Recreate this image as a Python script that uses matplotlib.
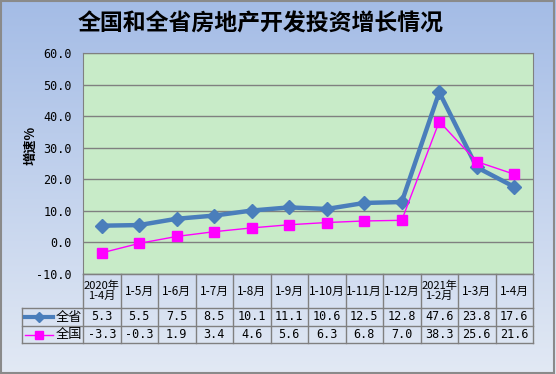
import numpy as np
import matplotlib.pyplot as plt
from matplotlib.lines import Line2D

plt.rcParams['font.family'] = ['Noto Sans CJK SC', 'DejaVu Sans']

categories = ["2020年\n1-4月", "1-5月", "1-6月", "1-7月", "1-8月", "1-9月", "1-10月",
              "1-11月", "1-12月", "2021年\n1-2月", "1-3月", "1-4月"]
province = [5.3, 5.5, 7.5, 8.5, 10.1, 11.1, 10.6, 12.5, 12.8, 47.6, 23.8, 17.6]
national = [-3.3, -0.3, 1.9, 3.4, 4.6, 5.6, 6.3, 6.8, 7.0, 38.3, 25.6, 21.6]
series_names = ["全省", "全国"]
yticks = [-10, 0, 10, 20, 30, 40, 50, 60]

W, H = 556, 374
fig = plt.figure(figsize=(W / 100, H / 100), dpi=100)

# gradient background
bg = fig.add_axes([0, 0, 1, 1], zorder=-10)
top = np.array([164, 188, 230]) / 255
bot = np.array([226, 233, 244]) / 255
t = np.linspace(0, 1, 256)[:, None]
grad = top[None, :] * (1 - t) + bot[None, :] * t
bg.imshow(grad[:, None, :], aspect='auto', extent=[0, 1, 0, 1])
bg.set_axis_off()
bg.add_patch(plt.Rectangle((0.002, 0.003), 0.995, 0.993, fill=False,
                           edgecolor='#8a8a8a', lw=1.5, transform=bg.transAxes))

left, right, ytop, ybot = 83, 533, 53, 274
ax = fig.add_axes([left / W, (H - ybot) / H, (right - left) / W, (ybot - ytop) / H])
ax.set_facecolor('#c8ebc8')
n = len(categories)
x = np.arange(n)
colw = (right - left) / n
ax.set_xlim(-0.5, n - 0.5)
ax.set_ylim(-10, 60)
ax.set_yticks(yticks)
ax.set_yticklabels([f"{v:.1f}" for v in yticks], family='DejaVu Sans Mono', fontsize=8.5)
ax.tick_params(axis='y', length=0, pad=8)
ax.set_xticks([])
for v in yticks:
    ax.axhline(v, color='#808080', lw=1, zorder=1)
for s in ax.spines.values():
    s.set_color('#808080')

ax.plot(x, province, color='#4a7ebb', lw=3.2, marker='D', ms=7, zorder=3)
ax.plot(x, national, color='#ff00ff', lw=1, marker='s', ms=6.5, zorder=4)

fig.text(30 / W, 1 - 145 / H, "增速%", rotation=90, ha='center', va='center',
         fontsize=9.5, fontweight='bold')
fig.text(261 / W, 1 - 24 / H, "全国和全省房地产开发投资增长情况", ha='center', va='center',
         fontsize=16.5, fontweight='bold')

# data table below the axes
tr = ax.get_xaxis_transform()
ph = ybot - ytop
r0, r1, r2, r3 = 0, -34 / ph, -52 / ph, -69 / ph


def px(xp):
    return -0.5 + (xp - left) / colw


xl = px(22)
gc = '#808080'
for yy in (r0, r1, r2, r3):
    x0 = -0.5 if yy == r0 else xl
    ax.add_line(Line2D([x0, n - 0.5], [yy, yy], transform=tr, color=gc, lw=1, clip_on=False))
for i in range(n + 1):
    ax.add_line(Line2D([i - 0.5, i - 0.5], [r0, r3], transform=tr, color=gc, lw=1, clip_on=False))
ax.add_line(Line2D([xl, xl], [r1, r3], transform=tr, color=gc, lw=1, clip_on=False))

for i, c in enumerate(categories):
    fs = 8 if "\n" in c else 8.5
    ax.text(i, (r0 + r1) / 2, c, transform=tr, ha='center', va='center',
            fontsize=fs, linespacing=1.0)
    ax.text(i, (r1 + r2) / 2, f"{province[i]:.1f}", transform=tr, ha='center', va='center',
            fontsize=8.5, family='DejaVu Sans Mono')
    ax.text(i, (r2 + r3) / 2, f"{national[i]:.1f}", transform=tr, ha='center', va='center',
            fontsize=8.5, family='DejaVu Sans Mono')

# legend keys inside the table
styles = [dict(color='#4a7ebb', lw=3, marker='D', ms=5),
          dict(color='#ff00ff', lw=1, marker='s', ms=5.5)]
rows = [(r1 + r2) / 2, (r2 + r3) / 2]
ka, kb = px(25), px(53)
for name, st, yy in zip(series_names, styles, rows):
    ax.add_line(Line2D([ka, kb], [yy, yy], transform=tr, clip_on=False,
                       color=st['color'], lw=st['lw']))
    ax.add_line(Line2D([(ka + kb) / 2], [yy], transform=tr, clip_on=False,
                       color=st['color'], marker=st['marker'], ms=st['ms'], lw=0))
    ax.text(px(56), yy, name, transform=tr, ha='left', va='center', fontsize=9.5)

fig.savefig("out.png", dpi=100)
